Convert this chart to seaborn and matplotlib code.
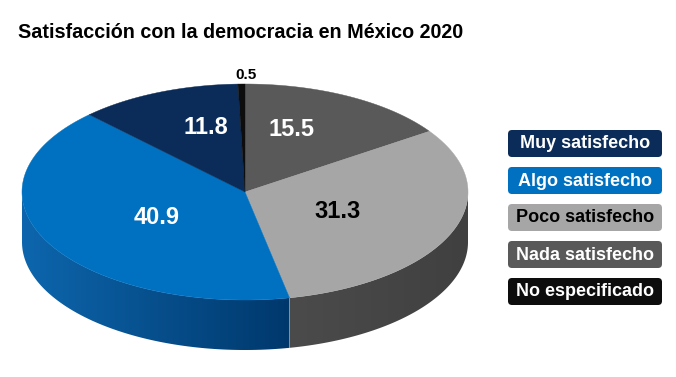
import numpy as np
import matplotlib
matplotlib.use("Agg")
import matplotlib.pyplot as plt
from matplotlib.patches import Polygon, FancyBboxPatch
from matplotlib import font_manager
from matplotlib.colors import to_rgb
import seaborn as sns

# ---------------- data ----------------
title = "Satisfacción con la democracia en México 2020"
categories = ["Muy satisfecho", "Algo satisfecho", "Poco satisfecho",
              "Nada satisfecho", "No especificado"]
values = [11.8, 40.9, 31.3, 15.5, 0.5]
value_labels = ["11.8", "40.9", "31.3", "15.5", "0.5"]

# ---------------- styles ----------------
top_colors = ["#0b2c58", "#0070c0", "#a6a6a6", "#595959", "#0d0d0d"]
side_colors = [("#081f3e", "#061a33"), ("#0d66ad", "#00386c"),
               ("#4b4b4b", "#404040"), ("#3a3a3a", "#303030"),
               ("#000000", "#000000")]
label_colors = ["white", "white", "black", "white", "black"]
legend_text_colors = ["white", "white", "black", "white", "white"]

sns.set_theme(style="white")
avail = {f.name for f in font_manager.fontManager.ttflist}
narrow = "Liberation Sans Narrow" if "Liberation Sans Narrow" in avail else "Liberation Sans"
plt.rcParams['font.family'] = ["Liberation Sans", "DejaVu Sans"]

fig = plt.figure(figsize=(6.76, 3.77), dpi=100)
ax = fig.add_axes([0, 0, 1, 1])
ax.set_xlim(0, 676)
ax.set_ylim(377, 0)
ax.axis('off')

cx, cy, a, b, depth = 245, 192, 223, 108, 50


def px(t):
    return cx + a * np.cos(np.radians(t))


def py(t):
    return cy - b * np.sin(np.radians(t))


# clockwise from 12 o'clock in this order
order = [3, 2, 1, 0, 4]
total = sum(values)
start = 90.0
angles = {}
for i in order:
    sweep = 360.0 * values[i] / total
    angles[i] = (start - sweep, start)
    start -= sweep

# ---- sides (front half only), gradient clipped to side polygon ----
for i in order:
    lo, hi = angles[i]
    for k in (-1, 0, 1):
        f_lo, f_hi = -180 + 360 * k, 360 * k
        s, e = max(lo, f_lo), min(hi, f_hi)
        if e <= s:
            continue
        th = np.linspace(s, e, max(3, int((e - s) * 3)))
        top = [(px(t), py(t)) for t in th]
        bot = [(px(t), py(t) + depth) for t in th[::-1]]
        pts = top + bot
        xs = [p[0] for p in pts]
        ys = [p[1] for p in pts]
        x0, x1 = min(xs), max(xs)
        y0, y1 = min(ys), max(ys)
        c0 = np.array(to_rgb(side_colors[i][0]))
        c1 = np.array(to_rgb(side_colors[i][1]))
        ncol = 200
        fr = np.linspace(0, 1, ncol)[None, :, None]
        img = c0[None, None, :] + (c1 - c0)[None, None, :] * fr
        img = np.repeat(img, 2, axis=0)
        patch = Polygon(pts, closed=True, facecolor='none', edgecolor='none')
        ax.add_patch(patch)
        im = ax.imshow(img, extent=[x0, x1, y1, y0], aspect='auto',
                       interpolation='bilinear', zorder=1)
        im.set_clip_path(patch)

ax.set_xlim(0, 676)
ax.set_ylim(377, 0)

# ---- top face ----
for i in order:
    lo, hi = angles[i]
    th = np.linspace(lo, hi, max(3, int((hi - lo) * 2)))
    pts = [(cx, cy)] + [(px(t), py(t)) for t in th]
    ax.add_patch(Polygon(pts, closed=True, facecolor=top_colors[i],
                         edgecolor=top_colors[i], linewidth=0.3, zorder=2))

# ---- value labels ----
for i in order:
    lo, hi = angles[i]
    m = np.radians(0.5 * (lo + hi))
    if values[i] < 2:
        x = cx + 1.0 * a * np.cos(m) + 5
        y = cy - 1.1 * b * np.sin(m) + 2
        ax.text(x, y, value_labels[i], color=label_colors[i], fontsize=11,
                fontweight='bold', family=[narrow, "DejaVu Sans"],
                ha='center', va='center', zorder=3)
    else:
        x = cx + 0.45 * a * np.cos(m)
        y = cy - 0.6 * b * np.sin(m) - 5
        ax.text(x, y, value_labels[i], color=label_colors[i], fontsize=17,
                fontweight='bold', family=[narrow, "DejaVu Sans"],
                ha='center', va='center', zorder=3)

# ---- legend ----
for j, cat in enumerate(categories):
    y0 = 130 + 37 * j
    ax.add_patch(FancyBboxPatch((508, y0), 154, 27,
                                boxstyle="round,pad=0,rounding_size=4",
                                facecolor=top_colors[j], edgecolor='none',
                                zorder=2))
    ax.text(585, y0 + 14, cat, color=legend_text_colors[j], fontsize=13,
            fontweight='bold', family=[narrow, "DejaVu Sans"],
            ha='center', va='center', zorder=3)

# ---- title ----
ax.text(18, 32, title, fontsize=14.2, fontweight='bold', color='black',
        ha='left', va='center')

fig.savefig("out.png", dpi=100)
